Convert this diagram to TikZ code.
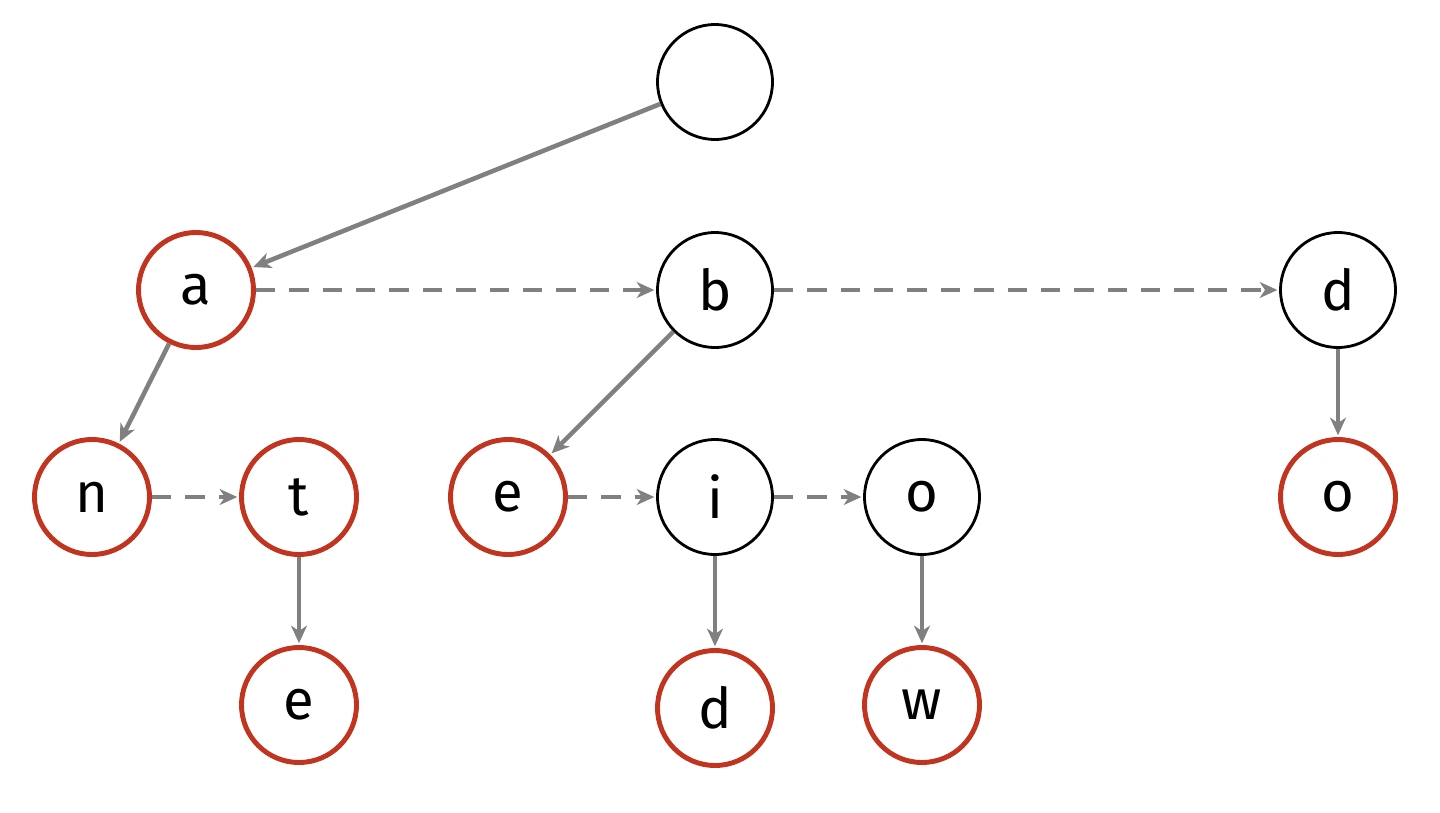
\documentclass[tikz,border=0pt]{standalone}
\usepackage{fontspec}
\setmainfont{Fira Sans}
\usetikzlibrary{arrows.meta}
\definecolor{redb}{RGB}{192,52,32}
\definecolor{edge}{RGB}{128,128,128}
\begin{document}
\begin{tikzpicture}[x=0.02cm,y=-0.02cm,
  nd/.style={circle,draw=black,line width=1.6pt,minimum size=2.3cm,inner sep=0pt,font=\fontsize{32}{36}\selectfont},
  rd/.style={nd,draw=redb,line width=2.8pt},
  ch/.style={draw=edge,line width=2.6pt,-{Stealth[length=10pt,width=9pt,inset=3pt]},shorten >=1pt},
  sb/.style={ch,dash pattern=on 11pt off 8pt}]
\useasboundingbox (0,0) rectangle (1440,812);
\node[nd] (root) at (715,82) {};
\node[rd] (a) at (196,290) {a};
\node[nd] (b) at (715,290) {b};
\node[nd] (d) at (1338,290) {d};
\node[rd] (n) at (92,497) {n};
\node[rd] (t) at (299,497) {t};
\node[rd] (e1) at (508,497) {e};
\node[nd] (i) at (715,497) {i};
\node[nd] (o1) at (922,497) {o};
\node[rd] (o2) at (1338,497) {o};
\node[rd] (e2) at (299,705) {e};
\node[rd] (d2) at (715,708) {d};
\node[rd] (w) at (922,705) {w};
\draw[ch] (root) -- (a);
\draw[sb] (a) -- (b);
\draw[sb] (b) -- (d);
\draw[ch] (a) -- (n);
\draw[sb] (n) -- (t);
\draw[ch] (t) -- (e2);
\draw[ch] (b) -- (e1);
\draw[sb] (e1) -- (i);
\draw[sb] (i) -- (o1);
\draw[ch] (i) -- (d2);
\draw[ch] (o1) -- (w);
\draw[ch] (d) -- (o2);
\end{tikzpicture}
\end{document}
